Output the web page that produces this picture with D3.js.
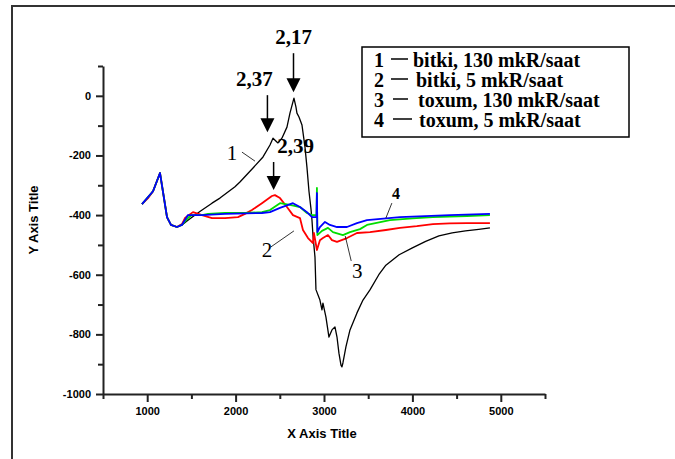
<!DOCTYPE html>
<html>
<head>
<meta charset="utf-8">
<script src="https://cdn.jsdelivr.net/npm/d3@7"></script>
<style>
  body { margin: 0; background: #fff; }
  svg { display: block; }
  .tick text { font-family: Arial, "Liberation Sans", sans-serif; font-weight: bold; font-size: 11px; fill: #000; }
  .domain, .tick line { stroke: #222; stroke-width: 2px; }
</style>
</head>
<body>
<div id="chart"></div>
<script>
// series data [x, y]
const bitki130 = [
  [941, -363], [1009, -340], [1066, -320], [1145, -259], [1224, -407], [1269, -433], [1337, -440],
  [1393, -433], [1461, -417], [1600, -387], [1733, -360], [1823, -343], [1993, -305], [2049, -289],
  [2197, -242], [2310, -205], [2389, -165], [2423, -142], [2479, -158], [2524, -142], [2581, -105],
  [2615, -58], [2660, -8], [2683, -38], [2694, -58], [2717, -71], [2751, -98], [2785, -172],
  [2807, -239], [2830, -320], [2853, -380], [2864, -417], [2875, -467], [2898, -541], [2909, -650],
  [2954, -685], [2977, -718], [2988, -695], [3022, -742], [3056, -809], [3090, -785], [3124, -775],
  [3147, -809], [3169, -863], [3192, -903], [3203, -909], [3214, -896], [3248, -842], [3294, -785],
  [3373, -728], [3441, -685], [3520, -651], [3620, -600], [3700, -568], [3850, -533], [4000, -510],
  [4150, -488], [4300, -470], [4450, -460], [4600, -453], [4750, -448], [4877, -443]
];
const bitki5 = [
  [941, -363], [1009, -343], [1066, -320], [1145, -259], [1224, -407], [1269, -433], [1337, -440],
  [1393, -430], [1427, -410], [1518, -390], [1620, -400], [1733, -410], [1880, -410], [2027, -407],
  [2106, -396], [2185, -383], [2298, -360], [2411, -336], [2445, -333], [2502, -343], [2581, -373],
  [2649, -400], [2728, -410], [2762, -450], [2819, -477], [2875, -494], [2886, -460], [2920, -517],
  [2954, -484], [2988, -477], [3045, -467], [3090, -484], [3147, -490], [3260, -477], [3373, -460],
  [3520, -457], [3700, -450], [3859, -443], [4050, -437], [4232, -430], [4420, -428], [4617, -427],
  [4877, -427]
];
const toxum130 = [
  [941, -363], [1009, -340], [1066, -320], [1145, -259], [1224, -407], [1269, -433], [1337, -440],
  [1393, -433], [1461, -410], [1507, -400], [1620, -400], [1688, -396], [1880, -393], [2106, -393],
  [2298, -390], [2389, -383], [2502, -360], [2615, -366], [2728, -373], [2807, -393], [2864, -400],
  [2915, -400], [2920, -309], [2925, -467], [2977, -453], [3045, -443], [3101, -457], [3214, -467],
  [3294, -457], [3407, -447], [3486, -433], [3746, -417], [4000, -411], [4232, -407], [4617, -403],
  [4877, -400]
];
const toxum5 = [
  [941, -363], [1009, -340], [1066, -320], [1145, -259], [1224, -407], [1269, -433], [1337, -440],
  [1393, -433], [1461, -400], [1620, -400], [1880, -396], [2298, -393], [2389, -390], [2502, -376],
  [2649, -360], [2728, -373], [2807, -390], [2864, -407], [2915, -407], [2920, -326], [2925, -457],
  [2954, -440], [3011, -423], [3067, -433], [3147, -440], [3260, -440], [3373, -427], [3486, -417],
  [3859, -407], [4424, -400], [4877, -396]
];

const seriesList = [bitki130, bitki5, toxum130, toxum5];
const seriesColors = ["#000000", "#ff0000", "#00dd00", "#0000ff"];
const legendLabels = ["bitki, 130 mkR/saat", "bitki, 5 mkR/saat", "toxum, 130 mkR/saat", "toxum, 5 mkR/saat"];

const xMajor = [1000, 2000, 3000, 4000, 5000];
const xMinor = [500, 1500, 2500, 3500, 4500, 5500];
const yMajor = [0, -200, -400, -600, -800, -1000];
const yMinor = [100, -100, -300, -500, -700, -900];

// peak annotations: text, x, y of the pointed peak
const peakLabels = [["2,17", 2655, -8], ["2,37", 2360, -142], ["2,39", 2430, -336]];
// curve number labels: text, leader start x, leader start y
const curveLabels = [["1", 2219, -219], ["2", 2660, -453], ["3", 3240, -470], ["4", 3700, -410]];

const width = 675, height = 459;

const svg = d3.select("#chart").append("svg")
  .attr("width", width)
  .attr("height", height);

// outer frame (only left/top visible in picture)
svg.append("rect")
  .attr("x", 12).attr("y", 6)
  .attr("width", 700).attr("height", 500)
  .attr("fill", "none")
  .attr("stroke", "#333")
  .attr("stroke-width", 2);

const x = d3.scaleLinear().domain([500, 5500]).range([103, 545]);
const y = d3.scaleLinear().domain([-1000, 100]).range([394, 66]);

// axes
svg.append("g")
  .attr("transform", "translate(0,394)")
  .call(d3.axisBottom(x).tickValues(xMinor).tickSize(5).tickSizeOuter(0).tickFormat(""));
svg.append("g")
  .attr("transform", "translate(0,394)")
  .call(d3.axisBottom(x).tickValues(xMajor).tickSize(8).tickPadding(5).tickSizeOuter(0).tickFormat(d => String(d)))
  .select(".domain").remove();

svg.append("g")
  .attr("transform", "translate(103,0)")
  .call(d3.axisLeft(y).tickValues(yMinor).tickSize(5).tickSizeOuter(0).tickFormat(""));
svg.append("g")
  .attr("transform", "translate(103,0)")
  .call(d3.axisLeft(y).tickValues(yMajor).tickSize(7).tickPadding(5).tickSizeOuter(0).tickFormat(d => String(d)))
  .select(".domain").remove();

svg.append("text")
  .attr("x", 322).attr("y", 438)
  .attr("text-anchor", "middle")
  .attr("font-family", "Arial, 'Liberation Sans', sans-serif")
  .attr("font-weight", "bold")
  .attr("font-size", 13)
  .text("X  Axis Title");

svg.append("text")
  .attr("transform", "translate(38,220) rotate(-90)")
  .attr("text-anchor", "middle")
  .attr("font-family", "Arial, 'Liberation Sans', sans-serif")
  .attr("font-weight", "bold")
  .attr("font-size", 13)
  .text("Y Axis Title");

// lines
const line = d3.line().x(d => x(d[0])).y(d => y(d[1]));

seriesList.forEach((s, i) => {
  svg.append("path")
    .datum(s)
    .attr("fill", "none")
    .attr("stroke", seriesColors[i])
    .attr("stroke-width", i === 0 ? 1.3 : 1.8)
    .attr("stroke-linejoin", "round")
    .attr("d", line);
});

// peak arrows
const serif = "'Liberation Serif', 'Times New Roman', serif";
const arrowLen = [39, 37, 28];
const textShift = [0, -13, 22];
peakLabels.forEach((p, i) => {
  const px = x(p[1]);
  const tip = y(p[2]) - 6;
  const top = tip - arrowLen[i];
  svg.append("line")
    .attr("x1", px).attr("x2", px)
    .attr("y1", top).attr("y2", tip - 12)
    .attr("stroke", "#000").attr("stroke-width", 1.5);
  svg.append("path")
    .attr("d", `M${px - 7},${tip - 14}L${px + 7},${tip - 14}L${px},${tip}Z`)
    .attr("fill", "#000");
  svg.append("text")
    .attr("x", px + textShift[i])
    .attr("y", top - 9)
    .attr("text-anchor", "middle")
    .attr("font-family", serif)
    .attr("font-weight", "bold")
    .attr("font-size", 21)
    .text(p[0]);
});

// curve number labels with leader lines: [leader dx, leader dy, text dx, text dy]
const labelOffsets = [[-13, -9, -23, -1], [-23, 16, -27, 26], [6, 25, 12, 42], [6, -15, 10, -19]];
curveLabels.forEach((c, i) => {
  const ax = x(c[1]), ay = y(c[2]);
  const o = labelOffsets[i];
  svg.append("line")
    .attr("x1", ax).attr("y1", ay)
    .attr("x2", ax + o[0]).attr("y2", ay + o[1])
    .attr("stroke", "#000").attr("stroke-width", 0.8);
  svg.append("text")
    .attr("x", ax + o[2]).attr("y", ay + o[3])
    .attr("text-anchor", "middle")
    .attr("font-family", serif)
    .attr("font-weight", i === 3 ? "bold" : "normal")
    .attr("font-size", i === 3 ? 16 : 21)
    .text(c[0]);
});

// legend
const legend = svg.append("g");
legend.append("rect")
  .attr("x", 362).attr("y", 47)
  .attr("width", 267).attr("height", 90)
  .attr("fill", "#fff")
  .attr("stroke", "#000")
  .attr("stroke-width", 1.5);

legendLabels.forEach((t, i) => {
  const by = 67 + i * 20;
  legend.append("text")
    .attr("x", 374).attr("y", by)
    .attr("font-family", serif).attr("font-weight", "bold").attr("font-size", 20)
    .text(i + 1);
  legend.append("line")
    .attr("x1", 391 + (i > 1 ? 2 : 0)).attr("x2", 408 + (i === 3 ? 4 : 0))
    .attr("y1", by - 8).attr("y2", by - 8)
    .attr("stroke", "#000").attr("stroke-width", 1.5);
  legend.append("text")
    .attr("x", [413, 416, 418, 419][i]).attr("y", by)
    .attr("font-family", serif).attr("font-weight", "bold").attr("font-size", 20)
    .text(t);
});
</script>
</body>
</html>
